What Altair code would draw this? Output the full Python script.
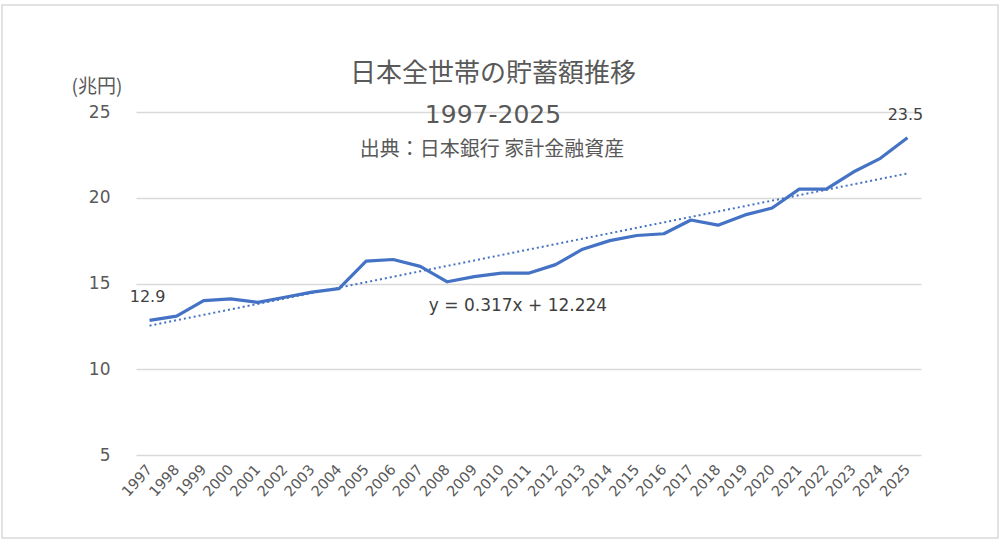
import altair as alt
import pandas as pd

years = [str(y) for y in range(1997, 2026)]
values = [12.85, 13.1, 14.0, 14.1, 13.9, 14.2, 14.5, 14.7, 16.3, 16.4, 16.0,
          15.1, 15.4, 15.6, 15.6, 16.1, 17.0, 17.5, 17.8, 17.9, 18.7,
          18.4, 19.0, 19.4, 20.5, 20.5, 21.5, 22.3, 23.5]
trend_slope = 0.317
trend_intercept = 12.224
label_texts = ["12.9", "23.5"]

df = pd.DataFrame({"year": years, "value": values})
df["idx"] = range(1, len(years) + 1)
df["trend"] = trend_slope * df["idx"] + trend_intercept

CJK = "Noto Sans CJK JP"
LAT = "DejaVu Sans"
BLUE = "#4472C4"
GREY = "#595959"

x_enc = alt.X("year:O", title=None, sort=years,
              scale=alt.Scale(paddingInner=0, paddingOuter=0.5),
              axis=alt.Axis(labelAngle=-48, labelFontSize=14.5, labelColor=GREY,
                            labelFont=LAT, ticks=False, domain=False,
                            labelPadding=12, grid=False))
y_scale = alt.Scale(domain=[5, 25], nice=False, zero=False)

line = alt.Chart(df).mark_line(color=BLUE, strokeWidth=3.2, strokeJoin="round").encode(
    x=x_enc,
    y=alt.Y("value:Q", scale=y_scale, title=None,
            axis=alt.Axis(values=[5, 10, 15, 20, 25], labelFontSize=17,
                          labelColor=GREY, labelFont=LAT, ticks=False,
                          domain=False, labelPadding=26,
                          gridColor="#D9D9D9", gridWidth=1.3))
)

trend = alt.Chart(df).mark_line(color=BLUE, strokeWidth=2, strokeDash=[2, 3]).encode(
    x=alt.X("year:O", sort=years),
    y=alt.Y("trend:Q", scale=y_scale)
)

lab_df = pd.DataFrame({"year": [years[0], years[-1]],
                       "value": [values[0], values[-1]],
                       "text": label_texts})
labels = alt.Chart(lab_df).mark_text(fontSize=16, color="#404040", font=LAT,
                                     dy=-23, dx=-2).encode(
    x=alt.X("year:O", sort=years),
    y=alt.Y("value:Q", scale=y_scale),
    text="text:N"
)

def txt(s, x, y, size, font=CJK, color=GREY, **kw):
    return alt.Chart(pd.DataFrame({"t": [s]})).mark_text(
        fontSize=size, color=color, font=font, **kw).encode(
        x=alt.value(x), y=alt.value(y), text="t:N")

title1 = txt("日本全世帯の貯蓄額推移", 357, -38, 26)
title2 = txt("1997-2025", 357, 3, 25, font=LAT)
title3 = txt("出典：日本銀行 家計金融資産", 356, 38, 20)
unit = txt("(兆円)", -39, -25, 19)
eq = txt("y = 0.317x + 12.224", 382, 194, 17, font=LAT, color="#404040")

border = alt.Chart(pd.DataFrame({"a": [0]})).mark_rect(
    fill=None, stroke="#D9D9D9", strokeWidth=1.5).encode(
    x=alt.value(-134), x2=alt.value(862), y=alt.value(-107), y2=alt.value(426))

chart = alt.layer(border, line, trend, labels, title1, title2, title3, unit, eq).properties(
    width=785, height=343,
    autosize=alt.AutoSizeParams(type="none"),
    padding={"left": 136, "top": 112, "right": 79, "bottom": 89},
    background="white"
).configure_view(stroke=None)

chart.save("out.html", embed_options={"renderer": "svg", "actions": False})
